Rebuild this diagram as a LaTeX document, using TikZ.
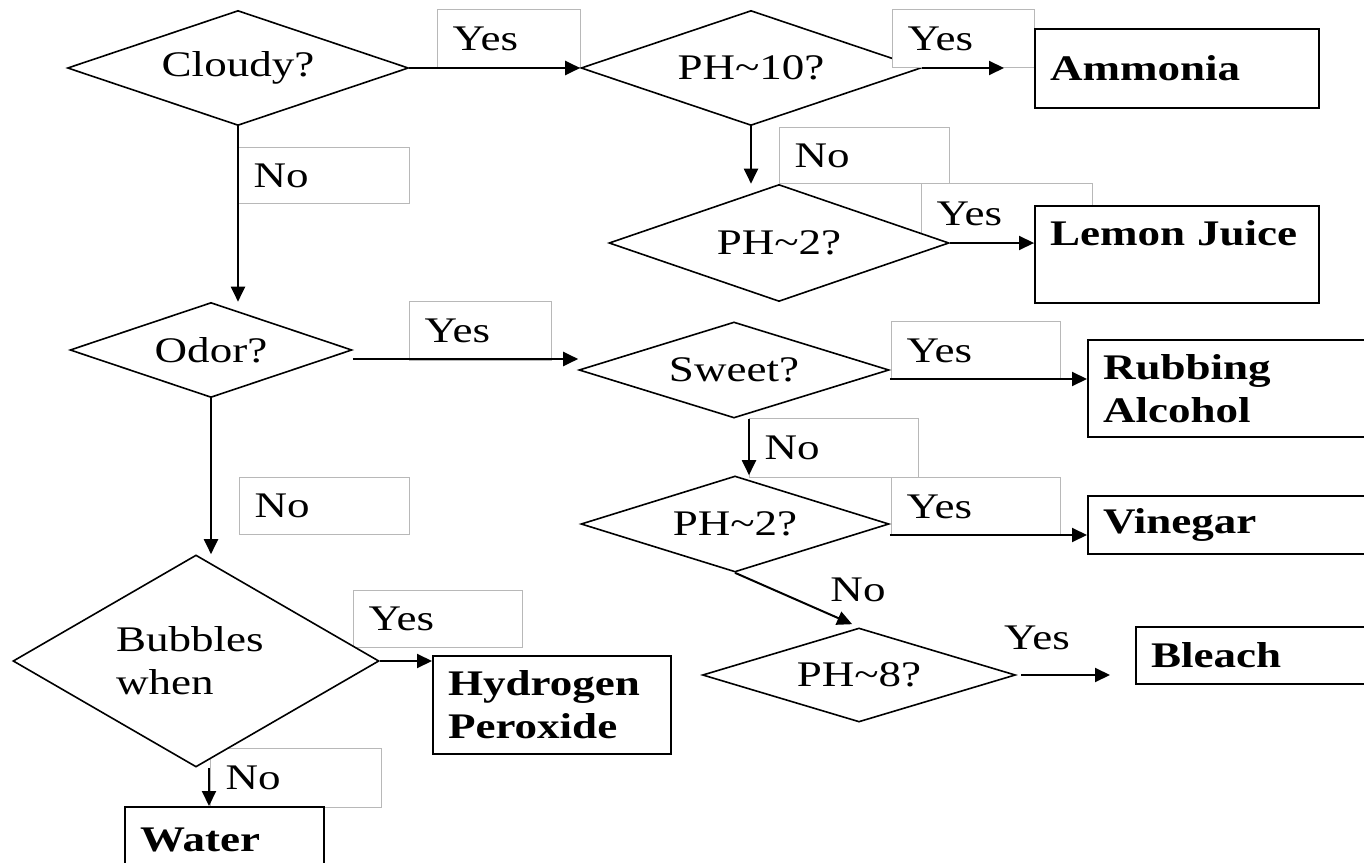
\documentclass[tikz,border=0pt]{standalone}
\usepackage{fontspec}
\setmainfont{Liberation Serif}[FakeStretch=1.25]
\usepackage{tikz}
\usetikzlibrary{arrows.meta,shapes.geometric}

\newcommand{\chartfont}{\fontsize{20.5}{24.5}\selectfont}
\newcommand{\tl}{\textasciitilde}

\tikzset{
  query/.style={diamond, draw, line width=0.32mm, fill=white, aspect=2.5, inner sep=0pt},
  answer/.style={rectangle, draw, line width=0.4mm, fill=white, anchor=north west, align=left, inner xsep=3mm, font=\chartfont\bfseries},
  tag/.style={rectangle, draw=black!28, line width=0.2mm, fill=white, anchor=north west, align=left, inner xsep=3mm},
  flow/.style={->, line width=0.4mm},
}

\begin{document}
\begin{tikzpicture}[x=0.2mm, y=-0.2mm, >={Triangle[length=3mm,width=2.8mm]}, every node/.style={font=\chartfont}]
\useasboundingbox (0,0) rectangle (1364,863);
\clip (0,0) rectangle (1364,863);
\fill[white] (0,0) rectangle (1364,863);

% yes / no tags
\node[tag, minimum width=28.6mm, minimum height=11.6mm, text width=22.6mm] (yes1) at (437,9) {Yes};
\node[tag, minimum width=34.2mm, minimum height=11.2mm, text width=28.2mm] (no1) at (238,147) {No};
\node[tag, minimum width=34mm, minimum height=11.2mm, text width=28mm] (no2) at (779,127) {No};
\node[tag, minimum width=34.2mm, minimum height=12mm, text width=28.2mm] (yes3) at (921,183) {Yes};
\node[tag, minimum width=28.4mm, minimum height=11.8mm, text width=22.4mm] (yes4) at (409,301) {Yes};
\node[tag, minimum width=34mm, minimum height=11.4mm, text width=28mm] (no3) at (239,477) {No};
\node[tag, minimum width=33.8mm, minimum height=11.6mm, text width=27.8mm] (yes5) at (891,321) {Yes};
\node[tag, minimum width=33.8mm, minimum height=11.8mm, text width=27.8mm] (no4) at (749,418) {No};
\node[tag, minimum width=33.8mm, minimum height=11.6mm, text width=27.8mm] (yes6) at (891,477) {Yes};
\node[tag, minimum width=33.8mm, minimum height=11.4mm, text width=27.8mm] (yes7) at (353,590) {Yes};
\node[tag, minimum width=34.2mm, minimum height=11.8mm, text width=28.2mm] (no5) at (210,748) {No};

% questions
\node[query, minimum width=68.2mm, minimum height=23mm] (cloudy) at (238,68) {Cloudy?};
\node[query, minimum width=68mm, minimum height=23mm] (ph10) at (751,68) {PH\tl10?};
\node[query, minimum width=68mm, minimum height=23.4mm] (ph2a) at (779,243) {PH\tl2?};
\node[query, minimum width=56.4mm, minimum height=19mm] (odor) at (211,350) {Odor?};
\node[query, minimum width=62mm, minimum height=19.2mm] (sweet) at (734,370) {Sweet?};
\node[query, minimum width=61.6mm, minimum height=19.2mm] (ph2b) at (735,524) {PH\tl2?};
\node[query, minimum width=62.6mm, minimum height=18.8mm] (ph8) at (859,675) {PH\tl8?};
\node[query, minimum width=73.2mm, minimum height=42.4mm, align=left, text width=32mm] (bubbles) at (196,661) {Bubbles\\when};

\node[tag, minimum width=28.4mm, minimum height=11.6mm, text width=22.4mm] (yes2) at (892,9) {Yes};

% liquids
\node[answer, minimum width=56.8mm, minimum height=15.8mm, text width=50.8mm] (ammonia) at (1034,28) {Ammonia};
\node[answer, minimum width=56.8mm, minimum height=19.4mm, text width=50.8mm] (lemon) at (1034,205) {Lemon Juice\\\mbox{}};
\node[answer, minimum width=60mm, minimum height=19.4mm, text width=54mm] (rubbing) at (1087,339) {Rubbing\\Alcohol};
\node[answer, minimum width=60mm, minimum height=11.6mm, text width=54mm] (vinegar) at (1087,495) {Vinegar};
\node[answer, minimum width=50mm, minimum height=11.4mm, text width=44mm] (bleach) at (1135,626) {Bleach};
\node[answer, minimum width=47.6mm, minimum height=19.6mm, text width=41.6mm] (hydrogen) at (432,655) {Hydrogen\\Peroxide};
\node[answer, minimum width=39.8mm, minimum height=13.2mm, text width=33.8mm] (water) at (124,806) {Water};

\node (nolbl) at (858,590) {No};
\node (yeslbl) at (1037,638) {Yes};

% arrows
\draw[flow] (cloudy.east) -- (ph10.west);
\draw[flow] (cloudy.south) -- (cloudy.south |- odor.north);
\draw[flow] (ph10.south) -- (ph10.south |- ph2a.north);
\draw[flow, shorten >=6mm] (ph10.east) -- (ph10.east -| ammonia.west);
\draw[flow] (ph2a.east) -- (ph2a.east -| lemon.west);
\draw[flow] ([yshift=-1.8mm]odor.east) -- ([yshift=-1.8mm]odor.east -| sweet.west);
\draw[flow] (odor.south) -- (odor.south |- bubbles.north);
\draw[flow] ([yshift=-1.8mm]sweet.east) -- ([yshift=-1.8mm]sweet.east -| rubbing.west);
\draw[flow] ([xshift=3mm]sweet.south) -- ([xshift=3mm]sweet.south |- ph2b.north);
\draw[flow] ([yshift=-2.2mm]ph2b.east) -- ([yshift=-2.2mm]ph2b.east -| vinegar.west);
\draw[flow, shorten >=1.5mm] (ph2b.south) -- (ph8.north);
\draw[flow, shorten <=1mm, shorten >=5mm] (ph8.east) -- (ph8.east -| bleach.west);
\draw[flow] (bubbles.east) -- (bubbles.east -| hydrogen.west);
\draw[flow] ([xshift=2.6mm]bubbles.south) -- ([xshift=2.6mm]bubbles.south |- water.north);
\end{tikzpicture}
\end{document}
